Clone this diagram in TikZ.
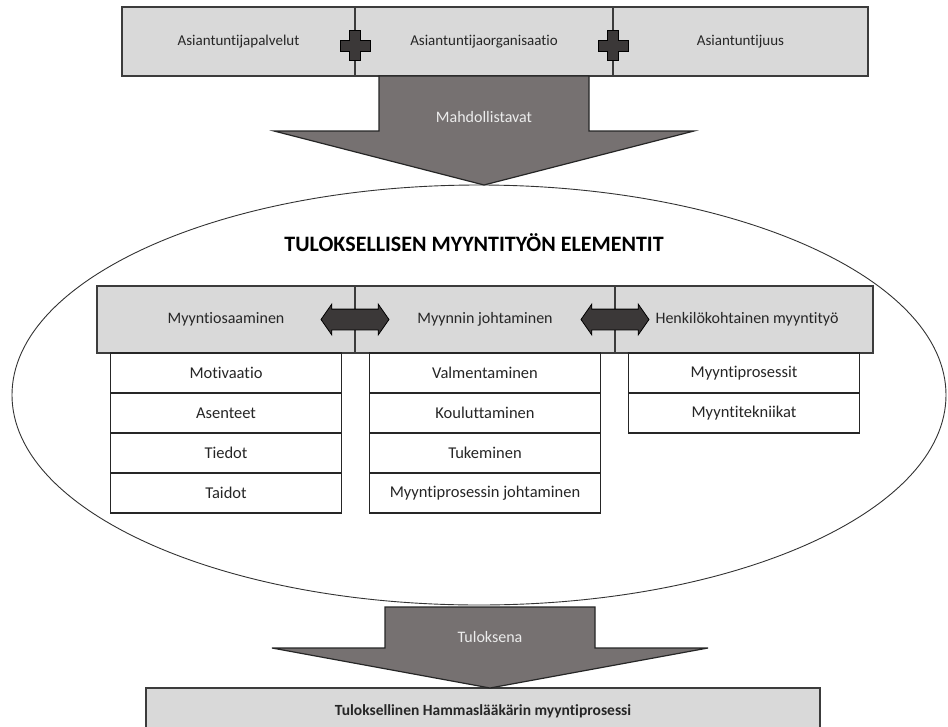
\documentclass[tikz,border=0pt]{standalone}
\usepackage{fontspec}
\setmainfont{Carlito}[Ligatures=NoCommon]
\usetikzlibrary{positioning,calc,shapes.arrows,shapes.geometric}
\definecolor{LightGray}{RGB}{217,217,217}
\definecolor{ArrowGray}{RGB}{118,113,113}
\definecolor{DarkGray}{RGB}{59,56,56}
\definecolor{EdgeGray}{RGB}{60,60,60}
\definecolor{PaleText}{RGB}{236,236,236}
\definecolor{TextGray}{RGB}{38,38,38}
\tikzset{%
  bar/.style={%
    draw=EdgeGray, line width=1.4pt, fill=LightGray, outer sep=0pt,
    text=TextGray, font=\fontsize{15}{18}\selectfont, inner sep=0pt
  },
  midbar/.style={%
    bar, font=\fontsize{16}{19}\selectfont, minimum height=67pt
  },
  item/.style={%
    draw=black!85, line width=1.1pt, fill=white, outer sep=0pt,
    minimum width=231pt, minimum height=40pt, inner sep=0pt,
    text=TextGray, font=\fontsize{16.5}{19}\selectfont
  },
  blockarrow/.style={draw=black!85, line width=1.2pt, fill=ArrowGray},
  arrowlabel/.style={text=PaleText, font=\fontsize{16}{19}\selectfont},
  twoway/.style={%
    double arrow, fill=DarkGray, draw=black, line width=.8pt,
    minimum width=30pt, minimum height=68pt, double arrow head extend=5pt,
    double arrow tip angle=110, inner xsep=0pt, inner ysep=10pt
  },
  plussign/.style={fill=DarkGray, draw=black, line width=1pt},
  heading/.style={font=\fontsize{22}{26}\selectfont\bfseries},
}

\begin{document}
\begin{tikzpicture}[x=1pt, y=-1pt]
    \useasboundingbox (0,0) rectangle (948,726);

    % yläpalkki
    \node (PALVELUT)[bar, minimum width=233pt, minimum height=69pt] at (238.5,41.5) {Asiantuntijapalvelut};
    \node (ORGANISAATIO)[bar, minimum width=258pt, minimum height=69pt, right=0pt of PALVELUT] {Asiantuntijaorganisaatio};
    \node (ASIANTUNTIJUUS)[bar, minimum width=255pt, minimum height=69pt, right=0pt of ORGANISAATIO] {Asiantuntijuus};

    \foreach \seam in {PALVELUT.east, ORGANISAATIO.east} {
        \draw[plussign, shift={(\seam)}]
            (-5.5,-11) -- (5.5,-11) -- (5.5,-1.5) -- (15,-1.5) -- (15,9.5)
            -- (5.5,9.5) -- (5.5,19) -- (-5.5,19) -- (-5.5,9.5) -- (-15,9.5)
            -- (-15,-1.5) -- (-5.5,-1.5) -- cycle;
    }

    % ellipsi
    \node (ELEMENTIT)[draw=black!80, line width=.9pt, ellipse, inner sep=0pt, outer sep=0pt,
        minimum width=934pt, minimum height=420pt] at (479,395) {};

    \draw[blockarrow] ($(ORGANISAATIO.south)+(-105,0)$) -- ++(210,0) -- ++(0,55)
        -- ++(105,0) -- ++(-210,54) -- ++(-210,-54) -- ++(105,0) -- cycle;
    \node (MAHDOLLISTAVAT)[arrowlabel] at ($(ORGANISAATIO.south)+(0,41)$) {Mahdollistavat};

    \node (OTSIKKO)[heading] at (474,243) {TULOKSELLISEN MYYNTITYÖN ELEMENTIT};

    % keskipalkki
    \node (MYYNTIOSAAMINEN)[midbar, minimum width=258pt] at (226,319.5) {Myyntiosaaminen};
    \node (JOHTAMINEN)[midbar, minimum width=260pt, right=0pt of MYYNTIOSAAMINEN] {Myynnin johtaminen};
    \node (MYYNTITYO)[midbar, minimum width=258pt, right=0pt of JOHTAMINEN] {\hspace{6pt}Henkilökohtainen myyntityö};

    \node (VALI1)[twoway] at (MYYNTIOSAAMINEN.east) {};
    \node (VALI2)[twoway] at (JOHTAMINEN.east) {};

    \node (MOTIVAATIO)[item, below=0pt of MYYNTIOSAAMINEN] {Motivaatio};
    \node (ASENTEET)[item, below=0pt of MOTIVAATIO] {Asenteet};
    \node (TIEDOT)[item, below=0pt of ASENTEET] {Tiedot};
    \node (TAIDOT)[item, below=0pt of TIEDOT] {Taidot};

    \node (VALMENTAMINEN)[item, below=0pt of JOHTAMINEN] {Valmentaminen};
    \node (KOULUTTAMINEN)[item, below=0pt of VALMENTAMINEN] {Kouluttaminen};
    \node (TUKEMINEN)[item, below=0pt of KOULUTTAMINEN] {Tukeminen};
    \node (PROSESSINJOHTO)[item, below=0pt of TUKEMINEN] {Myyntiprosessin johtaminen};

    \node (PROSESSIT)[item, below=0pt of MYYNTITYO] {Myyntiprosessit};
    \node (TEKNIIKAT)[item, below=0pt of PROSESSIT] {Myyntitekniikat};

    % tulos
    \node (TULOS)[bar, minimum width=674pt, minimum height=46pt,
        font=\fontsize{15.5}{18}\selectfont\bfseries] at (483,711) {Tuloksellinen Hammaslääkärin myyntiprosessi};
    \coordinate (KARKI) at ($(TULOS.north)+(7,0)$);
    \draw[blockarrow] (KARKI) -- ++(-218,-40) -- ++(113,0) -- ++(0,-41) -- ++(210,0)
        -- ++(0,41) -- ++(113,0) -- cycle;
    \node (TULOKSENA)[arrowlabel] at ($(KARKI)+(0,-51)$) {Tuloksena};
\end{tikzpicture}
\end{document}
